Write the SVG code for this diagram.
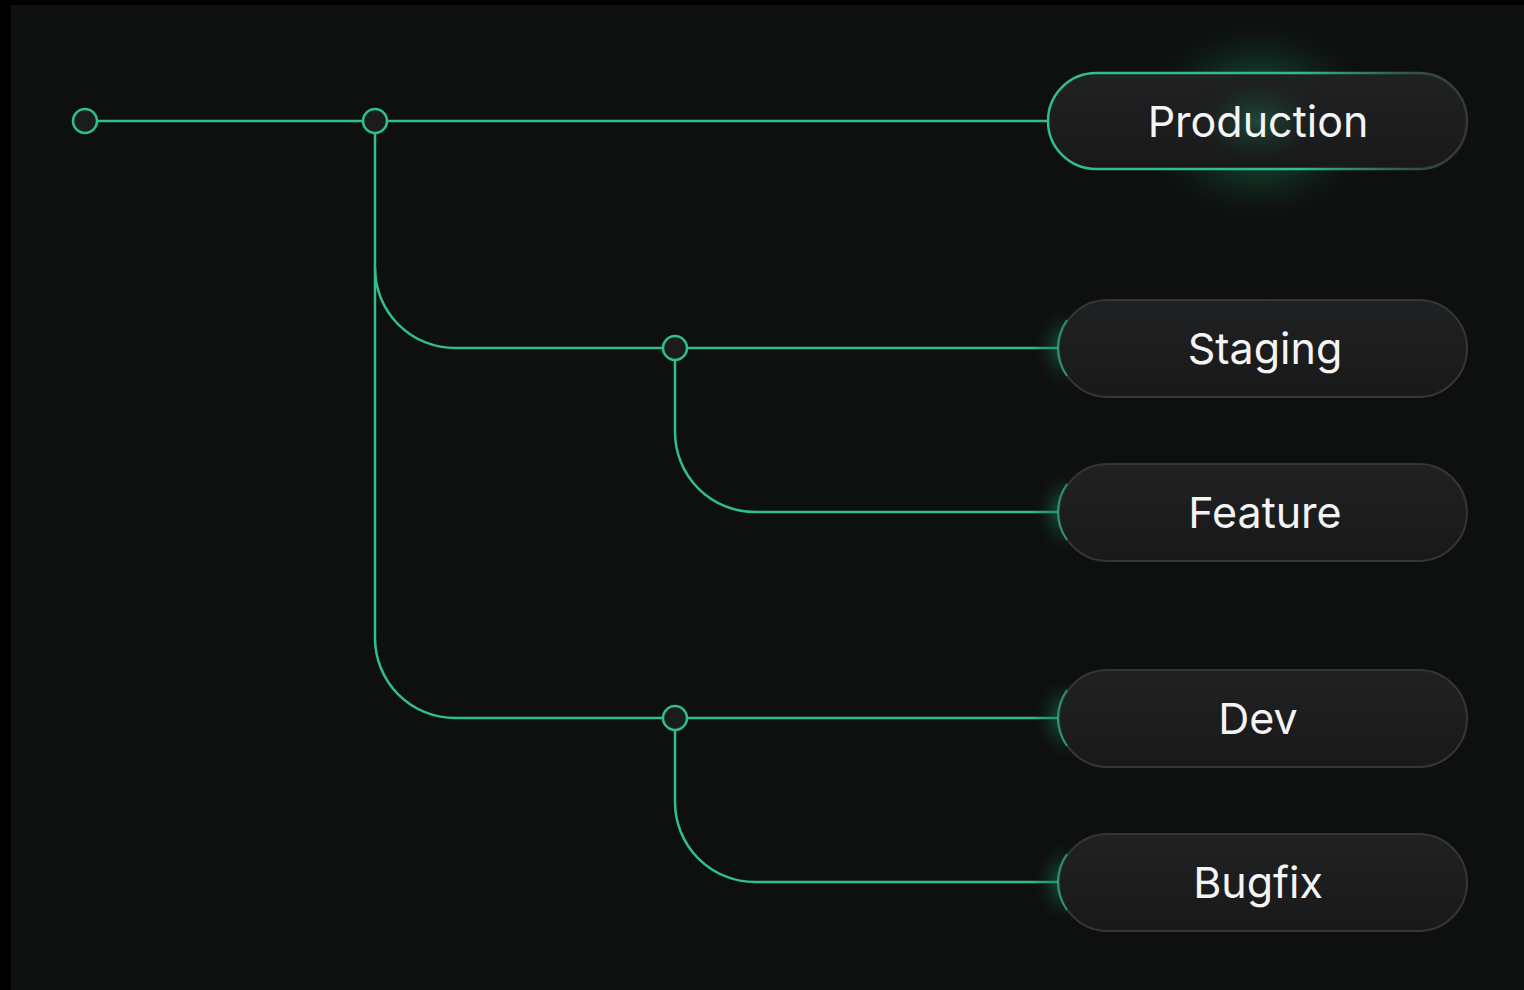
<svg xmlns="http://www.w3.org/2000/svg" width="1524" height="990" viewBox="0 0 1524 990">
<style>
.ln{fill:none;stroke:#2fbf8b;stroke-width:2.5}
.dot{fill:#1b1c1d;stroke:#2fbf8b;stroke-width:2.5}
.box{fill:url(#boxg);stroke:#343637;stroke-width:2}
.lbl{font-family:Inter,"Noto Sans","Liberation Sans",sans-serif;font-size:43px;fill:#f4f4f4;text-anchor:middle;dominant-baseline:central}
.edge{fill:none;stroke:#2fbf8b;stroke-width:2;opacity:0.7}
</style>
<defs>
<linearGradient id="boxg" x1="0" y1="0" x2="0" y2="1">
<stop offset="0" stop-color="#202122"/>
<stop offset="1" stop-color="#19191a"/>
</linearGradient>
<radialGradient id="glowP" cx="0.5" cy="0.5" r="0.5">
<stop offset="0" stop-color="#22a06a" stop-opacity="0.75"/>
<stop offset="0.5" stop-color="#16603f" stop-opacity="0.4"/>
<stop offset="1" stop-color="#0e0f0f" stop-opacity="0"/>
</radialGradient>
<radialGradient id="glowL" cx="0.5" cy="0.5" r="0.5">
<stop offset="0" stop-color="#1e8a5c" stop-opacity="0.6"/>
<stop offset="1" stop-color="#0e0f0f" stop-opacity="0"/>
</radialGradient>
<linearGradient id="prodStroke" x1="0" y1="0" x2="1" y2="0">
<stop offset="0" stop-color="#2fbf8b"/>
<stop offset="0.6" stop-color="#2fbf8b"/>
<stop offset="0.85" stop-color="#2f5a48"/>
<stop offset="1" stop-color="#343637"/>
</linearGradient>
</defs>
<rect x="0" y="0" width="1524" height="990" fill="#000"/>
<rect x="11" y="5" width="1513" height="985" fill="#0e0f0f"/>

<g id="connectors">
<path class="ln" d="M97 121 H363"/>
<path class="ln" d="M387 121 H1048"/>
<path class="ln" d="M375 134 V638 A80 80 0 0 0 455 718 H663"/>
<path class="ln" d="M375 268 A80 80 0 0 0 455 348 H663"/>
<path class="ln" d="M687 348 H1059"/>
<path class="ln" d="M675 361 V432 A80 80 0 0 0 755 512 H1059"/>
<path class="ln" d="M687 718 H1059"/>
<path class="ln" d="M675 731 V802 A80 80 0 0 0 755 882 H1059"/>
</g>

<g id="dots">
<circle class="dot" cx="85" cy="121" r="12"/>
<circle class="dot" cx="375" cy="121" r="12"/>
<circle class="dot" cx="675" cy="348" r="12"/>
<circle class="dot" cx="675" cy="718" r="12"/>
</g>

<g id="node-production">
<ellipse cx="1258" cy="121" rx="130" ry="110" fill="url(#glowP)"/>
<rect x="1048" y="73" width="419" height="96" rx="48" style="fill:url(#boxg);stroke:url(#prodStroke);stroke-width:2.5"/>
<ellipse cx="1258" cy="121" rx="70" ry="50" fill="url(#glowP)" opacity="0.45"/>
<text class="lbl" x="1258" y="121">Production</text>
</g>

<g id="node-staging">
<ellipse cx="1062" cy="348" rx="30" ry="45" fill="url(#glowL)"/>
<rect class="box" x="1059" y="300" width="408" height="97" rx="48.5"/>
<path class="edge" d="M1067 320 A48 48 0 0 0 1067 376"/>
<text class="lbl" x="1265" y="348">Staging</text>
</g>

<g id="node-feature">
<ellipse cx="1062" cy="512" rx="30" ry="45" fill="url(#glowL)"/>
<rect class="box" x="1059" y="464" width="408" height="97" rx="48.5"/>
<path class="edge" d="M1067 484 A48 48 0 0 0 1067 540"/>
<text class="lbl" x="1265" y="512">Feature</text>
</g>

<g id="node-dev">
<ellipse cx="1062" cy="718" rx="30" ry="45" fill="url(#glowL)"/>
<rect class="box" x="1059" y="670" width="408" height="97" rx="48.5"/>
<path class="edge" d="M1067 690 A48 48 0 0 0 1067 746"/>
<text class="lbl" x="1258" y="718">Dev</text>
</g>

<g id="node-bugfix">
<ellipse cx="1062" cy="882" rx="30" ry="45" fill="url(#glowL)"/>
<rect class="box" x="1059" y="834" width="408" height="97" rx="48.5"/>
<path class="edge" d="M1067 854 A48 48 0 0 0 1067 910"/>
<text class="lbl" x="1258" y="882">Bugfix</text>
</g>
</svg>
